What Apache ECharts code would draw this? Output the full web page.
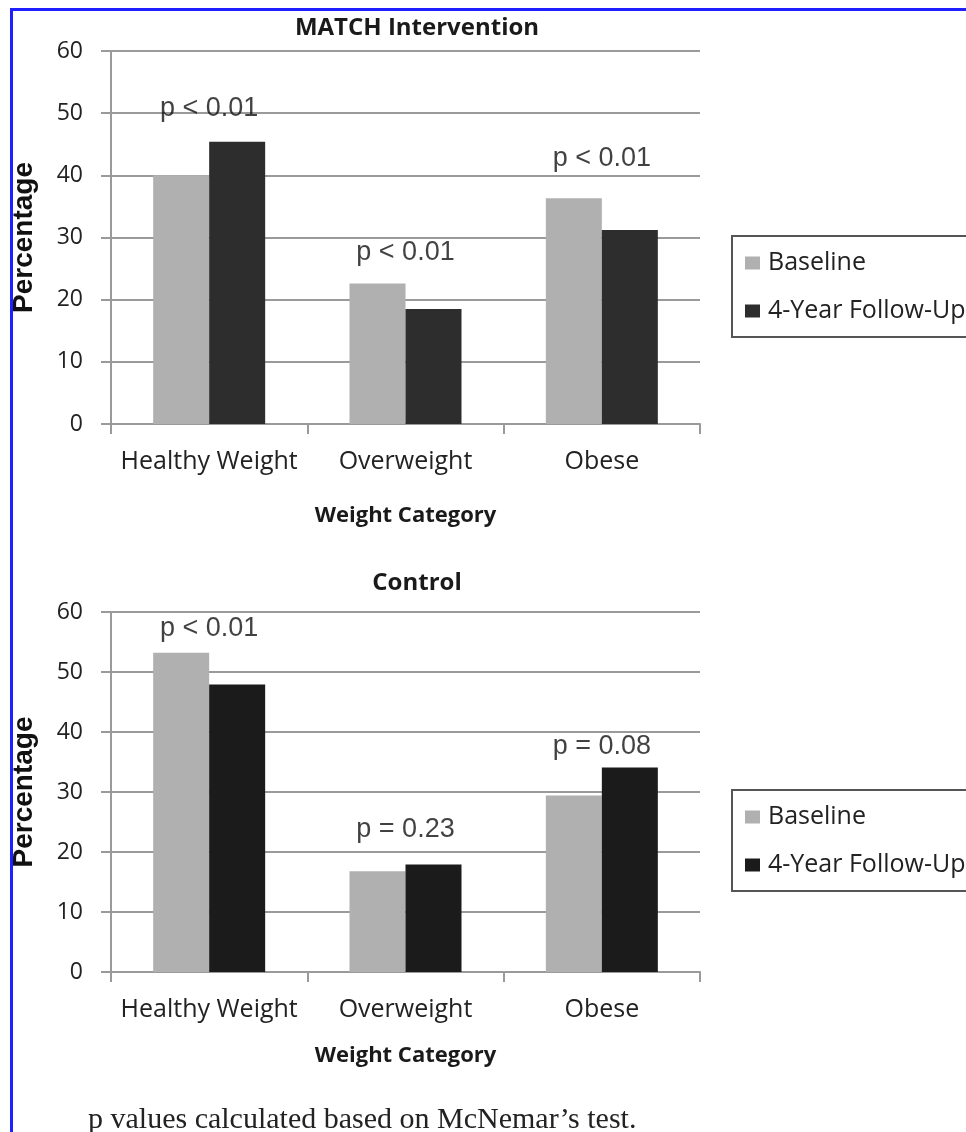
<!DOCTYPE html>
<html>
<head>
<meta charset="utf-8">
<script src="https://cdn.jsdelivr.net/npm/echarts@6/dist/echarts.min.js"></script>
<style>
  html, body { margin: 0; padding: 0; background: #ffffff; }
  #chart { width: 966px; height: 1132px; }
</style>
</head>
<body>
<div id="chart"></div>
<script>
// ---- Data ----
const categories = ['Healthy Weight', 'Overweight', 'Obese'];
const seriesNames = ['Baseline', '4-Year Follow-Up'];
const matchBaseline = [40.0, 22.6, 36.3];
const matchFollowUp = [45.4, 18.5, 31.2];
const controlBaseline = [53.2, 16.8, 29.4];
const controlFollowUp = [47.9, 17.9, 34.1];
const matchPValues = ['p < 0.01', 'p < 0.01', 'p < 0.01'];
const controlPValues = ['p < 0.01', 'p = 0.23', 'p = 0.08'];
const yMin = 0, yMax = 60, yStep = 10;
const panelTitles = ['MATCH Intervention', 'Control'];
const xAxisTitle = 'Weight Category';
const yAxisTitle = 'Percentage';
const footnote = 'p values calculated based on McNemar\u2019s test.';

// ---- Layout / style ----
const baseColor = '#b0b0b0';
const followColors = ['#2d2d2d', '#1b1b1b'];
const gridColor = '#9a9a9a';
const sans = '"Open Sans", "Noto Sans", sans-serif';
const arial = '"Liberation Sans", Arial, sans-serif';
const pLabelGaps = [[19, 17, 26], [10, 21, 7]];
const grids = [
  { left: 111, top: 51, width: 589, height: 373 },
  { left: 111, top: 612, width: 589, height: 360 }
];
const nameGaps = [81, 73];

const chart = echarts.init(document.getElementById('chart'), null, { renderer: 'canvas', width: 966, height: 1132 });

function xAxisFor(i) {
  return {
    type: 'category', gridIndex: i, data: categories,
    axisLine: { lineStyle: { color: gridColor, width: 2 } },
    axisTick: { show: true, length: 10, lineStyle: { color: gridColor, width: 2 } },
    axisLabel: { interval: 0, margin: 25, fontFamily: sans, fontSize: 25, color: '#222' },
    name: xAxisTitle, nameLocation: 'middle', nameGap: nameGaps[i],
    nameTextStyle: { fontFamily: sans, fontSize: 22, fontWeight: 'bold', color: '#1a1a1a' }
  };
}
function yAxisFor(i) {
  return {
    type: 'value', gridIndex: i, min: yMin, max: yMax, interval: yStep,
    axisLine: { show: true, lineStyle: { color: gridColor, width: 2 } },
    axisTick: { show: true, length: 10, lineStyle: { color: gridColor, width: 2 } },
    splitLine: { show: true, lineStyle: { color: gridColor, width: 2 } },
    axisLabel: { margin: 28, fontFamily: sans, fontSize: 23, color: '#222' },
    name: yAxisTitle, nameLocation: 'middle', nameRotate: 90, nameGap: 73,
    nameTextStyle: { fontFamily: arial, fontSize: 28, fontWeight: 'bold', color: '#111' }
  };
}
function barSeries(name, i, values, color) {
  return {
    type: 'bar', name: name, xAxisIndex: i, yAxisIndex: i, data: values,
    barWidth: 56, barGap: '0%', itemStyle: { color: color }, silent: true
  };
}
function pSeries(i, a, b, labels) {
  return {
    type: 'scatter', xAxisIndex: i, yAxisIndex: i, silent: true,
    symbolSize: 1, itemStyle: { color: 'rgba(0,0,0,0)' }, z: 5,
    data: categories.map((c, k) => ({
      value: [k, Math.max(a[k], b[k])],
      label: { distance: pLabelGaps[i][k] }
    })),
    label: {
      show: true, position: 'top',
      formatter: p => labels[p.dataIndex],
      fontFamily: arial, fontSize: 27, color: '#111'
    }
  };
}
function legendFor(i, top) {
  return {
    left: 732, top: top, orient: 'vertical',
    backgroundColor: '#fff', borderColor: '#555', borderWidth: 2, borderRadius: 0,
    padding: [13, 24, 12, 13], itemWidth: 15, itemHeight: 13, itemGap: 20,
    icon: 'rect', selectedMode: false,
    textStyle: { fontFamily: sans, fontSize: 25, lineHeight: 28, color: '#222', padding: [0, 0, 0, 3] },
    data: [
      { name: seriesNames[0], itemStyle: { color: baseColor } },
      { name: seriesNames[1], itemStyle: { color: followColors[i] } }
    ]
  };
}

const option = {
  animation: false,
  backgroundColor: '#ffffff',
  title: [
    { text: panelTitles[0], left: 412, top: 11, textAlign: 'center',
      textStyle: { fontFamily: sans, fontSize: 24, fontWeight: 'bold', color: '#1a1a1a' } },
    { text: panelTitles[1], left: 412, top: 566, textAlign: 'center',
      textStyle: { fontFamily: sans, fontSize: 24, fontWeight: 'bold', color: '#1a1a1a' } },
    { text: footnote, left: 83, top: 1100,
      textStyle: { fontFamily: '"Liberation Serif", "Times New Roman", serif', fontSize: 30, fontWeight: 'normal', color: '#222' } }
  ],
  legend: [legendFor(0, 236), legendFor(1, 790)],
  grid: grids,
  xAxis: [xAxisFor(0), xAxisFor(1)],
  yAxis: [yAxisFor(0), yAxisFor(1)],
  series: [
    barSeries(seriesNames[0], 0, matchBaseline, baseColor),
    barSeries(seriesNames[1], 0, matchFollowUp, followColors[0]),
    barSeries(seriesNames[0], 1, controlBaseline, baseColor),
    barSeries(seriesNames[1], 1, controlFollowUp, followColors[1]),
    pSeries(0, matchBaseline, matchFollowUp, matchPValues),
    pSeries(1, controlBaseline, controlFollowUp, controlPValues)
  ],
  graphic: [
    { type: 'rect', z: 100, silent: true,
      shape: { x: 11.5, y: 9.5, width: 1000, height: 1200 },
      style: { fill: 'none', stroke: '#1f1fff', lineWidth: 3 } }
  ]
};
chart.setOption(option);
</script>
</body>
</html>
